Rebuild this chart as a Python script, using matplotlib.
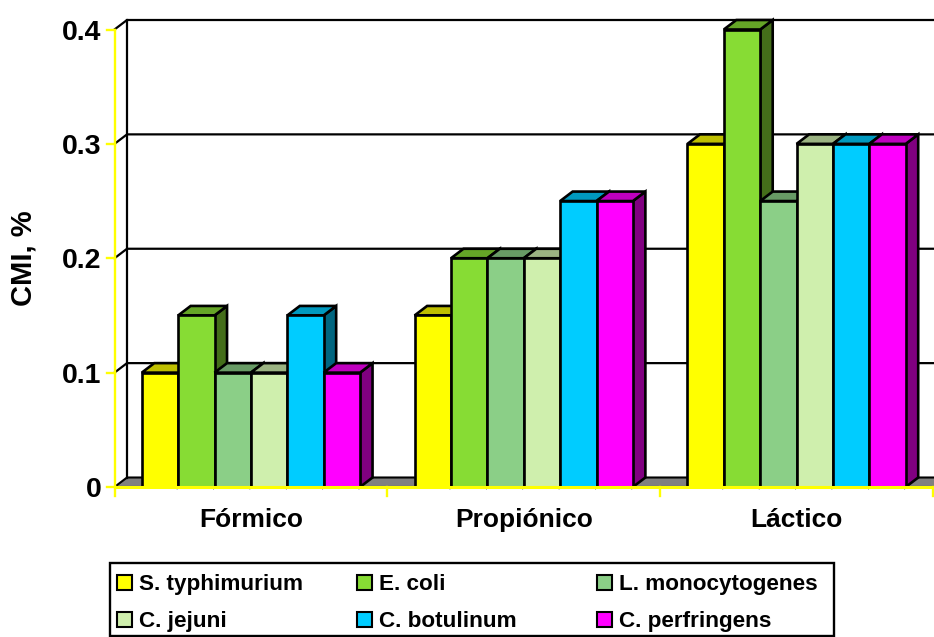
import matplotlib
matplotlib.use("Agg")
import matplotlib.pyplot as plt
from matplotlib.patches import Polygon, Rectangle

plt.rcParams['font.family'] = ['Liberation Sans', 'DejaVu Sans']
plt.rcParams['font.weight'] = 'bold'

acids = ["Fórmico", "Propiónico", "Láctico"]
species = ["S. typhimurium", "E. coli", "L. monocytogenes",
           "C. jejuni", "C. botulinum", "C. perfringens"]
colors = ["#FFFF00", "#87DC34", "#8BCF87", "#CFEFAD", "#00CCFF", "#FF00FF"]
formico = [0.1, 0.15, 0.1, 0.1, 0.15, 0.1]
propionico = [0.15, 0.2, 0.2, 0.2, 0.25, 0.25]
lactico = [0.3, 0.4, 0.25, 0.3, 0.3, 0.3]
yticks = [0, 0.1, 0.2, 0.3, 0.4]
yticklabels = ["0", "0.1", "0.2", "0.3", "0.4"]

W, H = 934, 637
x0, x1, y0, y1 = 114.5, 933, 487, 29.5  # plot box in pixels


def shade(c, f):
    rgb = matplotlib.colors.to_rgb(c)
    return tuple(v * f for v in rgb)


fig = plt.figure(figsize=(W / 100, H / 100), dpi=100)
ax = fig.add_axes([x0 / W, 1 - y0 / H, (x1 - x0) / W, (y0 - y1) / H])
ax.set_xlim(0, 3)
ax.set_ylim(0, 0.4)
ax.axis("off")

# depth of the fake 3d box, in data units
dx = 12.5 / ((x1 - x0) / 3)
dy = 9.5 / ((y0 - y1) / 0.4)
xmax = 3.02

line = dict(color="black", lw=1.6, clip_on=False, solid_capstyle="projecting")
edge = dict(ec="black", lw=1.9, clip_on=False, joinstyle="miter")

# floor, back wall and grid
ax.add_patch(Polygon([(0, 0), (dx, dy), (xmax, dy), (xmax, 0)], closed=True,
                     fc="#808080", ec="black", lw=1.5, clip_on=False))
ax.plot([dx, dx], [dy, 0.4 + dy], **line)
for v in yticks[1:]:
    ax.plot([0, dx, xmax], [v, v + dy, v + dy], **line)

# bars
bar_w = 1 / 7.5
gap = 0.75 * bar_w
for g, vals in enumerate([formico, propionico, lactico]):
    for i, v in enumerate(vals):
        a = g + gap + i * bar_w
        b = a + bar_w
        ax.add_patch(Polygon([(b, 0), (b + dx, dy), (b + dx, v + dy), (b, v)], closed=True,
                             fc=shade(colors[i], 0.5), zorder=3, **edge))
        ax.add_patch(Polygon([(a, v), (a + dx, v + dy), (b + dx, v + dy), (b, v)], closed=True,
                             fc=shade(colors[i], 0.75), zorder=3, **edge))
        ax.add_patch(Rectangle((a, 0), bar_w, v, fc=colors[i], zorder=3, **edge))

# yellow axes and ticks on top
yellow = dict(color="#FFFF00", lw=1.7, clip_on=False, zorder=4)
ax.plot([0, 0], [0, 0.4], **yellow)
ax.plot([0, 3], [0, 0], color="#FFFF00", lw=2.2, clip_on=False, zorder=4)
for v, s in zip(yticks, yticklabels):
    ax.plot([-8 / ((x1 - x0) / 3), 0], [v, v], **yellow)
    ax.annotate(s, (0, v), xytext=(-13, -10), textcoords="offset pixels", ha="right",
                va="baseline", fontsize=20.5, annotation_clip=False)
for g in range(4):
    ax.plot([g, g], [0, -9 / ((y0 - y1) / 0.4)], **yellow)
for g, name in enumerate(acids):
    ax.annotate(name, (g + 0.5, 0), xytext=(0, -40), textcoords="offset pixels", ha="center",
                va="baseline", fontsize=19, annotation_clip=False)

fig.text(24 / W, 1 - 258 / H, "CMI, %", rotation=90, ha="center", va="center", fontsize=21)

# legend box drawn by hand to keep the three columns where they are
fig.add_artist(Rectangle((109.5 / W, 1 - 636 / H), 724.5 / W, 73 / H, fc="white", ec="black",
                         lw=1.7, transform=fig.transFigure))
col_x = [117, 357, 597]
row_y = [582.5, 619.5]
for k, name in enumerate(species):
    px = col_x[k % 3]
    py = row_y[k // 3]
    fig.add_artist(Rectangle((px / W, 1 - (py + 7.5) / H), 15 / W, 15 / H, fc=colors[k], ec="black",
                             lw=1.5, transform=fig.transFigure))
    fig.text((px + 22) / W, 1 - (py + 7.5) / H, name, ha="left", va="baseline", fontsize=16.2)

fig.savefig("out.png", dpi=100)
